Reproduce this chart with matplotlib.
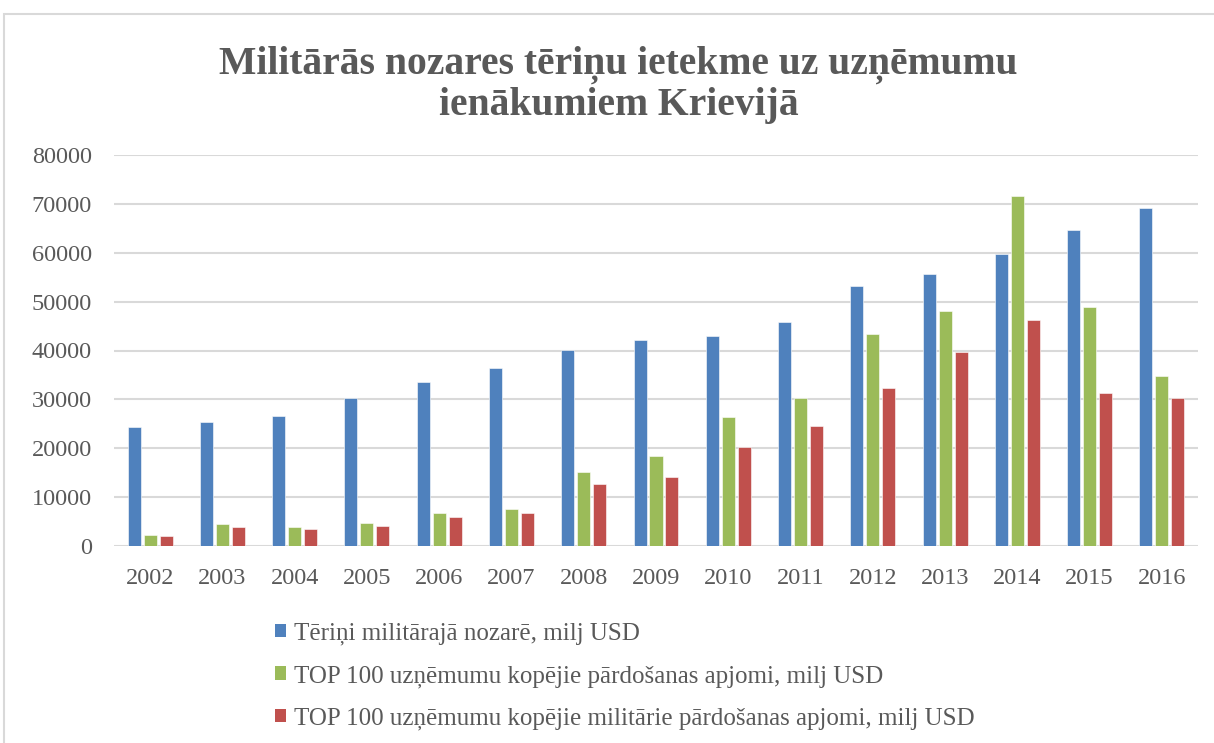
import numpy as np
import matplotlib.pyplot as plt
from matplotlib.patches import Rectangle, Patch

plt.rcParams['font.family'] = ['Liberation Serif', 'DejaVu Serif']

years = ['2002', '2003', '2004', '2005', '2006', '2007', '2008', '2009',
         '2010', '2011', '2012', '2013', '2014', '2015', '2016']
terini = [24300, 25400, 26600, 30300, 33600, 36500, 40100, 42100,
          42900, 45800, 53200, 55700, 59800, 64600, 69200]
top100 = [2200, 4400, 3850, 4650, 6800, 7550, 15100, 18400,
          26400, 30200, 43300, 48000, 71600, 49000, 34800]
top100_mil = [2000, 3900, 3500, 4100, 5900, 6850, 12650, 14100,
              20250, 24550, 32350, 39750, 46300, 31300, 30300]
labels = ['Tēriņi militārajā nozarē, milj USD',
          'TOP 100 uzņēmumu kopējie pārdošanas apjomi, milj USD',
          'TOP 100 uzņēmumu kopējie militārie pārdošanas apjomi, milj USD']
colors = ['#4f81bd', '#9bbb59', '#c0504d']
grey = '#595959'

fig = plt.figure(figsize=(12.14, 7.43), dpi=100)
# outer frame of the chart
fig.patches.append(Rectangle((4/1214, -0.1), 1.2, 1 - 14/743 + 0.1, transform=fig.transFigure,
                             fill=False, edgecolor='#d9d9d9', linewidth=1.5))

ax = fig.add_axes([114/1214, 1 - 546/743, (1198 - 114)/1214, (546 - 155)/743])
x = np.arange(len(years))
w = 0.18
step = 0.221
for i, (vals, c) in enumerate(zip([terini, top100, top100_mil], colors)):
    ax.bar(x + (i - 1)*step, vals, w, color=c, edgecolor='white', linewidth=0.4, zorder=3)

ax.set_xlim(-0.5, len(years) - 0.5)
ax.set_ylim(0, 80000)
ax.set_yticks(np.arange(0, 80001, 10000))
ax.set_xticks(x)
ax.set_xticklabels(years)
ax.yaxis.grid(True, color='#d9d9d9', linewidth=1.5, zorder=0)
ax.set_axisbelow(True)
for s in ax.spines.values():
    s.set_visible(False)
ax.tick_params(length=0, labelsize=17.5, colors=grey)
ax.tick_params(axis='y', pad=16)
ax.tick_params(axis='x', pad=16)

fig.text(0.5095, 1 - 85/743, 'Militārās nozares tēriņu ietekme uz uzņēmumu\nienākumiem Krievijā',
         ha='center', va='center', fontsize=28.5, fontweight='bold', color=grey, linespacing=1.12)

handles = [Patch(facecolor=c, edgecolor='none') for c in colors]
leg = fig.legend(handles, labels, loc='upper left', bbox_to_anchor=(252/1214, 1 - 600/743),
                 frameon=False, fontsize=18, handlelength=0.45, handleheight=0.45,
                 handletextpad=0.35, labelspacing=0.8, labelcolor=grey)

plt.savefig('out.png', dpi=100)
